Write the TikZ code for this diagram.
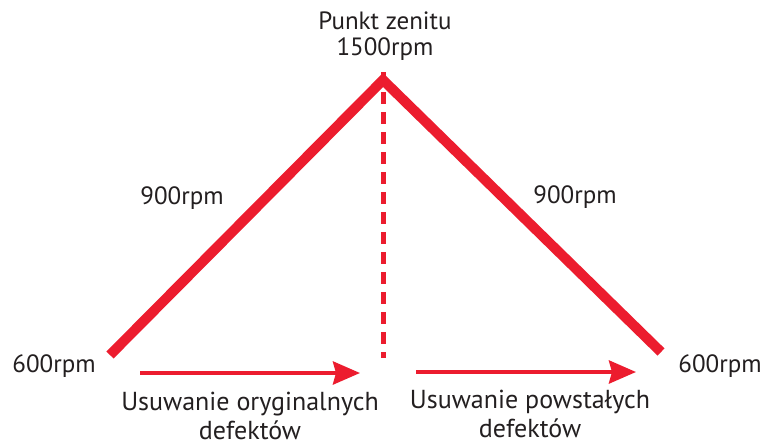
\documentclass[tikz,border=0pt]{standalone}
\usepackage{fontspec}
\setmainfont{PT Sans}
\usetikzlibrary{arrows.meta}
\definecolor{redcolor}{RGB}{236,28,46}
\definecolor{textcolor}{RGB}{35,31,32}

\begin{document}
\begin{tikzpicture}[x=1pt,y=-1pt]

\useasboundingbox[fill=white] (0,0) rectangle (767,447);

\coordinate (top) at (383,80);
\coordinate (L) at (110,355);
\coordinate (R) at (661,352);
\coordinate (base) at (383,358);
\coordinate (a1) at (140,373);
\coordinate (a2) at (360,373);
\coordinate (b1) at (416,372);
\coordinate (b2) at (636,372);

\draw[color=redcolor,line width=10pt,miter limit=10] (L) -- (top) -- (R);
\draw[color=redcolor,line width=5pt,dash pattern=on 12pt off 8pt] ([yshift=8pt]top) -- (base);

\begin{scope}[every path/.style={color=redcolor,line width=4pt,-{Stealth[length=27pt,width=23pt,inset=3pt]}}]
  \draw (a1) -- (a2);
  \draw (b1) -- (b2);
\end{scope}

% anchor=base is the baseline of the last line
\begin{scope}[every node/.style={text=textcolor,font=\fontsize{25}{26}\selectfont,align=center,inner sep=0pt,anchor=base}]
\node (zen) at (385,55) {Punkt zenitu\\1500rpm};
\node (lup) at (182,204) {900rpm};
\node (rup) at (575,203) {900rpm};
\node (llow) at (54,372) {600rpm};
\node (rlow) at (720,372) {600rpm};
\end{scope}

\begin{scope}[every node/.style={text=textcolor,font=\fontsize{26}{29}\selectfont,align=center,inner sep=0pt,anchor=base}]
\node (orig) at (250,439) {Usuwanie oryginalnych\\defektów};
\node (pow) at (530,437) {Usuwanie powstałych\\defektów};
\end{scope}

\end{tikzpicture}
\end{document}
